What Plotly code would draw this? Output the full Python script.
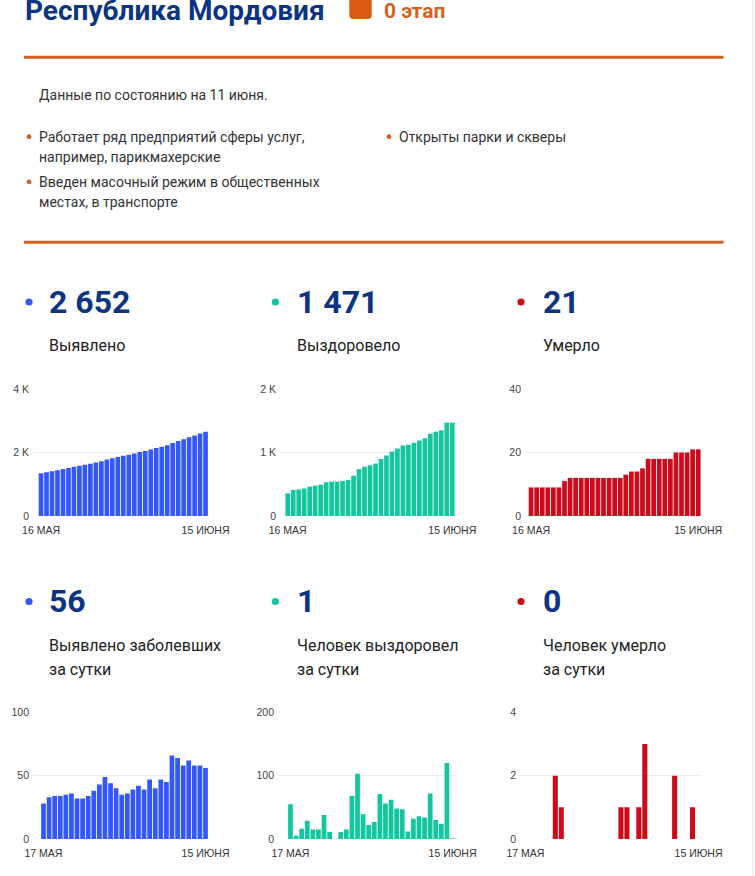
import plotly.graph_objects as go
import pandas as pd

W, H = 755, 876

# ---------------- data ----------------
dates_total = [d.strftime("%Y-%m-%d") for d in pd.date_range("2020-05-16", "2020-06-15")]
dates_daily = dates_total[1:]

cases_total = [1348, 1376, 1409, 1443, 1477, 1512, 1548, 1580, 1612, 1646, 1684,
               1727, 1776, 1820, 1860, 1895, 1931, 1970, 2012, 2051, 2098, 2138,
               2185, 2230, 2296, 2360, 2418, 2480, 2538, 2596, 2652]
recovered_total = [357, 412, 417, 433, 462, 477, 492, 530, 541, 541, 552, 567,
                   635, 738, 777, 799, 826, 897, 953, 1015, 1063, 1110, 1122,
                   1154, 1190, 1224, 1296, 1326, 1350, 1470, 1471]
deaths_total = [9, 9, 9, 9, 9, 9, 11, 12, 12, 12, 12, 12, 12, 12, 12, 12, 12,
                13, 14, 14, 15, 18, 18, 18, 18, 18, 20, 20, 20, 21, 21]

cases_daily = [28, 33, 34, 34, 35, 36, 32, 32, 34, 38, 43, 49, 44, 40, 35, 36,
               39, 42, 39, 47, 40, 47, 45, 66, 64, 58, 62, 58, 58, 56]
recovered_daily = [55, 5, 16, 29, 15, 15, 38, 11, 0, 11, 15, 68, 103, 39, 22, 27,
                   71, 56, 62, 48, 47, 12, 32, 36, 34, 72, 30, 24, 120, 1]
deaths_daily = [0, 0, 0, 0, 0, 2, 1, 0, 0, 0, 0, 0, 0, 0, 0, 0, 1, 1, 0, 1, 3,
                0, 0, 0, 0, 2, 0, 0, 1, 0]

total_xticks = ["16 МАЯ", "15 ИЮНЯ"]
daily_xticks = ["17 МАЯ", "15 ИЮНЯ"]

yticks_cases_total = ["0", "2 K", "4 K"]
yticks_recovered_total = ["0", "1 K", "2 K"]
yticks_deaths_total = ["0", "20", "40"]
yticks_cases_daily = ["0", "50", "100"]
yticks_recovered_daily = ["0", "100", "200"]
yticks_deaths_daily = ["0", "2", "4"]

labels_total = ["Выявлено", "Выздоровело", "Умерло"]
labels_daily = [["Выявлено заболевших", "за сутки"],
                ["Человек выздоровел", "за сутки"],
                ["Человек умерло", "за сутки"]]

region = "Республика Мордовия"
stage = "0 этап"
date_note = "Данные по состоянию на 11 июня."
measures_left = [["Работает ряд предприятий сферы услуг,", "например, парикмахерские"],
                 ["Введен масочный режим в общественных", "местах, в транспорте"]]
measures_right = [["Открыты парки и скверы"]]

# ---------------- styles ----------------
BLUE = "#3358f6"
GREEN = "#12c79d"
RED = "#cc0b1b"
NAVY = "#0b3582"
ORANGE = "#d4621f"
FONT = "Roboto"
TICKFONT = "Liberation Sans"
TXT_DX = -2.2  # annotation inner padding compensation


def fx(x):
    return x / W


def fy(y):
    return 1 - y / H


def fmt(v):
    return f"{v:,}".replace(",", " ")


fig = go.Figure()

charts = [
    # x, y, color, xticks, yticks, ymax, dom_left, bar_start, bar_end, top_px, bottom_px
    (dates_total, cases_total, BLUE, total_xticks, yticks_cases_total, 4000, 33, 38.3, 208.3, 389, 516),
    (dates_total, recovered_total, GREEN, total_xticks, yticks_recovered_total, 2000, 280, 285, 455, 389, 516),
    (dates_total, deaths_total, RED, total_xticks, yticks_deaths_total, 40, 525, 528.3, 701, 389, 516),
    (dates_daily, cases_daily, BLUE, daily_xticks, yticks_cases_daily, 100, 33, 40.7, 208.3, 712.3, 839),
    (dates_daily, recovered_daily, GREEN, daily_xticks, yticks_recovered_daily, 200, 278, 287.7, 455.3, 712.3, 839),
    (dates_daily, deaths_daily, RED, daily_xticks, yticks_deaths_daily, 4, 520, 522.5, 701.5, 712.3, 839),
]

layout_axes = {}
for i, (xs, ys, col, xt, yt, ymax, dl, bs, be, tp, bp) in enumerate(charts):
    n = len(xs)
    k = "" if i == 0 else str(i + 1)
    fig.add_trace(go.Bar(x=xs, y=ys, marker=dict(color=col, line=dict(width=0)),
                         xaxis="x" + k, yaxis="y" + k, hoverinfo="skip",
                         showlegend=False))
    bw = (be - bs) / n
    pad = (bs - dl) / bw
    layout_axes["xaxis" + k] = dict(
        domain=[fx(dl), fx(be)], anchor="y" + k, type="category",
        range=[-0.5 - pad, n - 0.5], showgrid=False, zeroline=False,
        showline=False, ticks="", tickmode="array",
        tickvals=[xs[0], xs[-1]], ticktext=xt,
        tickfont=dict(family=TICKFONT, size=10.5, color="#333"),
        ticklabelstandoff=6, fixedrange=True, automargin=False,
    )
    layout_axes["yaxis" + k] = dict(
        domain=[fy(bp), fy(tp)], anchor="x" + k, range=[0, ymax],
        tickmode="array", tickvals=[0, ymax / 2, ymax], ticktext=yt,
        showgrid=True, gridcolor="#ebebeb", gridwidth=1, zeroline=False,
        showline=False, ticks="",
        tickfont=dict(family=TICKFONT, size=10.5, color="#444"),
        ticklabelstandoff=3, fixedrange=True, automargin=False,
    )

annotations = []
shapes = []


def text(x, y, s, size, color, bold=False, anchor="left"):
    annotations.append(dict(
        xref="paper", yref="paper", x=fx(x + TXT_DX), y=fy(y), text=s, showarrow=False,
        xanchor=anchor, yanchor="middle",
        font=dict(family=FONT, size=size, color=color, weight=700 if bold else 400),
    ))


def dot(x, y, r, color):
    shapes.append(dict(type="circle", xref="paper", yref="paper",
                       x0=fx(x - r), x1=fx(x + r), y0=fy(y + r), y1=fy(y - r),
                       fillcolor=color, line=dict(width=0)))


def hline(y, x0, x1, color, w):
    shapes.append(dict(type="line", xref="paper", yref="paper",
                       x0=fx(x0), x1=fx(x1), y0=fy(y), y1=fy(y),
                       line=dict(color=color, width=w)))


# header
text(25, 10.5, region, 28, NAVY, bold=True)
r = 4
x0, x1, y0, y1 = 349.3, 371.7, -6, 19
path = (f"M {fx(x0)},{fy(y0)} L {fx(x0)},{fy(y1 - r)} "
        f"Q {fx(x0)},{fy(y1)} {fx(x0 + r)},{fy(y1)} "
        f"L {fx(x1 - r)},{fy(y1)} Q {fx(x1)},{fy(y1)} {fx(x1)},{fy(y1 - r)} "
        f"L {fx(x1)},{fy(y0)} Z")
shapes.append(dict(type="path", xref="paper", yref="paper", path=path,
                   fillcolor="#d95b12", line=dict(width=0)))
text(384.5, 11, stage, 21, ORANGE, bold=True)
hline(57.3, 24, 723.6, ORANGE, 3)

text(39, 95, date_note, 14, "#333")
yy = 136.7
for item in measures_left:
    dot(29, yy, 2.4, ORANGE)
    for line in item:
        text(39, yy, line, 14, "#333")
        yy += 20.3
    yy += 4.5
yy = 136.7
for item in measures_right:
    dot(389, yy, 2.4, ORANGE)
    for line in item:
        text(399, yy, line, 14, "#333")
        yy += 20.3
hline(242.3, 24, 723.6, ORANGE, 3)

# big numbers
col_dot_x = [29, 275.4, 521]
col_txt_x = [49.6, 297, 543]
col_colors = [BLUE, GREEN, RED]
totals = [cases_total[-1], recovered_total[-1], deaths_total[-1]]
dailies = [cases_daily[-1], recovered_daily[-1], deaths_daily[-1]]
for j in range(3):
    dot(col_dot_x[j], 302, 3.6, col_colors[j])
    text(col_txt_x[j], 301.5, fmt(totals[j]), 32, NAVY, bold=True)
    text(col_txt_x[j], 345.5, labels_total[j], 16, "#222")
    dot(col_dot_x[j], 601.5, 3.6, col_colors[j])
    text(col_txt_x[j], 601, fmt(dailies[j]), 32, NAVY, bold=True)
    text(col_txt_x[j], 645.5, labels_daily[j][0], 16, "#222")
    text(col_txt_x[j], 669, labels_daily[j][1], 16, "#222")

# faint right-edge separator
shapes.append(dict(type="line", xref="paper", yref="paper",
                   x0=fx(753), x1=fx(753), y0=0, y1=1,
                   line=dict(color="#e3e3e3", width=1)))

fig.update_layout(
    width=W, height=H, margin=dict(l=0, r=0, t=0, b=0, pad=0, autoexpand=False),
    paper_bgcolor="white", plot_bgcolor="white",
    bargap=0.15, annotations=annotations, shapes=shapes,
    font=dict(family=FONT),
    **layout_axes,
)

fig.write_html("out.html", config={"displayModeBar": False, "staticPlot": True},
               post_script="document.body.style.margin='0';document.body.style.overflow='hidden';")
